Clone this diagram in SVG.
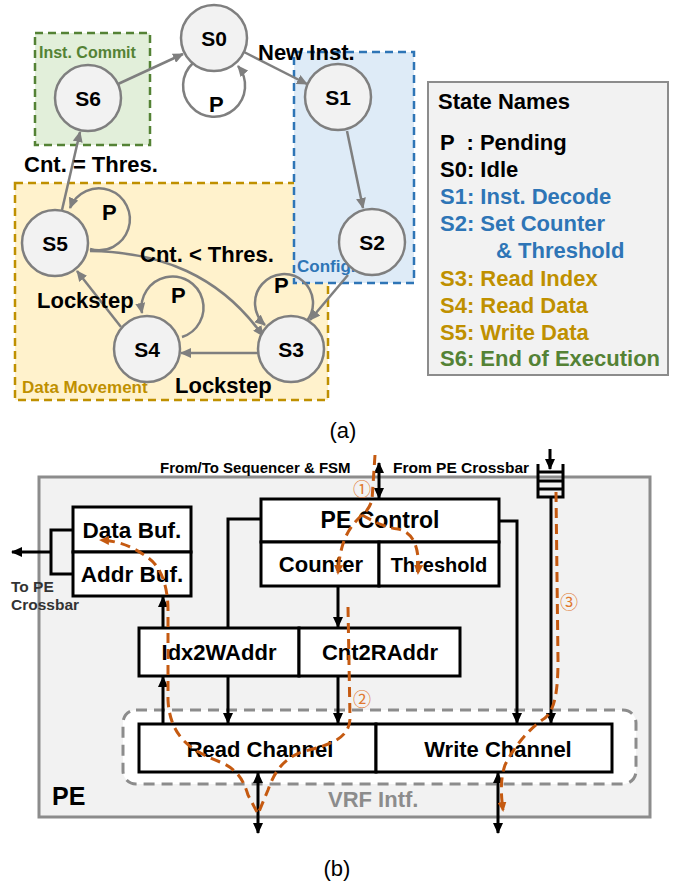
<svg xmlns="http://www.w3.org/2000/svg" width="688" height="886" viewBox="0 0 688 886">
<style>
text{font-family:"Liberation Sans",Arial,sans-serif;font-weight:bold}
.st{fill:#f2f2f2;stroke:#7f7f7f;stroke-width:2.5}
.sl{font-size:21px;text-anchor:middle;fill:#000}
.ga{fill:none;stroke:#7f7f7f;stroke-width:2.5;marker-end:url(#ga)}
.lb{font-size:22px;fill:#000}
.lg{font-size:22px}
.bx{fill:#fff;stroke:#000;stroke-width:3}
.bl{font-size:22px;text-anchor:middle;fill:#000}
.ka{fill:none;stroke:#000;stroke-width:3;marker-end:url(#ka)}
.kd{fill:none;stroke:#000;stroke-width:3;marker-end:url(#ka);marker-start:url(#ka)}
.kl{fill:none;stroke:#000;stroke-width:3}
.or{fill:none;stroke:#c55a11;stroke-width:3;stroke-dasharray:10 6}
.oa{marker-end:url(#oa)}
.num{font-family:"Noto Sans CJK JP","DejaVu Sans",sans-serif;font-weight:normal;font-size:18px;fill:#e0782f;text-anchor:middle}
.cap{font-family:"Liberation Sans",Arial,sans-serif;font-weight:normal;font-size:22px;fill:#000;text-anchor:middle}
</style>
<defs>
<marker id="ga" markerUnits="userSpaceOnUse" markerWidth="11" markerHeight="10" refX="10" refY="5" orient="auto"><path d="M0,0 L11,5 L0,10 z" fill="#7f7f7f"/></marker>
<marker id="ka" markerUnits="userSpaceOnUse" markerWidth="11" markerHeight="10" refX="10" refY="5" orient="auto-start-reverse"><path d="M0,0 L11,5 L0,10 z" fill="#000"/></marker>
<marker id="oa" markerUnits="userSpaceOnUse" markerWidth="10" markerHeight="9" refX="8" refY="4.5" orient="auto"><path d="M0,0 L10,4.5 L0,9 z" fill="#c55a11"/></marker>
</defs>

<!-- (a) state diagram -->
<g id="group-data">
<rect x="15" y="183" width="313" height="217" fill="#fff2cc" stroke="#bf9000" stroke-width="2.5" stroke-dasharray="8 5"/>
<text x="22" y="393" font-size="17" fill="#bf9000">Data Movement</text>
</g>
<g id="group-commit">
<rect x="35" y="33" width="115" height="112" fill="#e2efda" stroke="#548235" stroke-width="2.5" stroke-dasharray="8 5"/>
<text x="39" y="58" font-size="16" fill="#548235">Inst. Commit</text>
</g>
<g id="group-config">
<rect x="294" y="52" width="120" height="231" fill="#deebf7" stroke="#2e75b6" stroke-width="2.5" stroke-dasharray="8 5"/>
<text x="297" y="272" font-size="17" fill="#2e75b6">Config.</text>
</g>

<g id="state-edges">
<line class="ga" x1="118" y1="84" x2="183" y2="54"/>
<line class="ga" x1="244" y1="52" x2="307" y2="84"/>
<line class="ga" x1="347" y1="131" x2="363" y2="208"/>
<line class="ga" x1="348" y1="275" x2="310" y2="320"/>
<line class="ga" x1="258" y1="353" x2="181" y2="353"/>
<line class="ga" x1="121" y1="327" x2="77" y2="271"/>
<line class="ga" x1="62" y1="210" x2="80" y2="132"/>
<path class="ga" d="M90 251 C160 252 220 275 263 336"/>
<path class="ga" d="M193 63 A31 31 0 1 0 238 66"/>
<path class="ga" d="M90 249 A31 31 0 1 0 70 208"/>
<path class="ga" d="M182 337 A31 31 0 1 0 142 313"/>
<path class="ga" d="M306 322 A29 29 0 1 0 265 325"/>
<text class="lb" x="258" y="60">New Inst.</text>
<text class="lb" x="24" y="172">Cnt. = Thres.</text>
<text class="lb" x="140" y="262">Cnt. &lt; Thres.</text>
<text class="lb" x="37" y="308">Lockstep</text>
<text class="lb" x="175" y="393">Lockstep</text>
<text class="lb" x="209" y="112">P</text>
<text class="lb" x="102" y="220">P</text>
<text class="lb" x="171" y="303">P</text>
<text class="lb" x="274" y="293">P</text>
</g>

<g id="S0"><circle class="st" cx="214" cy="38" r="33"/><text class="sl" x="214" y="46">S0</text></g>
<g id="S1"><circle class="st" cx="338" cy="97" r="33"/><text class="sl" x="338" y="105">S1</text></g>
<g id="S2"><circle class="st" cx="372" cy="242" r="33"/><text class="sl" x="372" y="250">S2</text></g>
<g id="S3"><circle class="st" cx="291" cy="349" r="33"/><text class="sl" x="291" y="357">S3</text></g>
<g id="S4"><circle class="st" cx="147" cy="349" r="33"/><text class="sl" x="147" y="357">S4</text></g>
<g id="S5"><circle class="st" cx="55" cy="243" r="33"/><text class="sl" x="55" y="251">S5</text></g>
<g id="S6"><circle class="st" cx="88" cy="98" r="33"/><text class="sl" x="88" y="106">S6</text></g>

<g id="legend">
<rect x="428" y="82" width="240" height="293" fill="#f2f2f2" stroke="#8c8c8c" stroke-width="2"/>
<text class="lg" x="438" y="109" fill="#000">State Names</text>
<text class="lg" x="440" y="150" fill="#000" xml:space="preserve">P  : Pending</text>
<text class="lg" x="440" y="177" fill="#000">S0: Idle</text>
<text class="lg" x="440" y="204" fill="#2e75b6">S1: Inst. Decode</text>
<text class="lg" x="440" y="231" fill="#2e75b6">S2: Set Counter</text>
<text class="lg" x="496" y="258" fill="#2e75b6">&amp; Threshold</text>
<text class="lg" x="440" y="286" fill="#bf9000">S3: Read Index</text>
<text class="lg" x="440" y="313" fill="#bf9000">S4: Read Data</text>
<text class="lg" x="440" y="340" fill="#bf9000">S5: Write Data</text>
<text class="lg" x="440" y="366" fill="#548235">S6: End of Execution</text>
</g>

<text class="cap" x="343" y="438">(a)</text>

<!-- (b) PE block diagram -->
<g id="PE">
<rect x="39" y="477" width="611" height="340" fill="#f2f2f2" stroke="#8c8c8c" stroke-width="3"/>
<text x="52" y="805" font-size="25" fill="#000">PE</text>
</g>
<g id="VRF-intf">
<rect x="123" y="710" width="513" height="74" rx="13" fill="#fff" stroke="#8c8c8c" stroke-width="3" stroke-dasharray="11 7"/>
<text x="328" y="807" font-size="22" fill="#8c8c8c">VRF Intf.</text>
</g>
<text x="160" y="473" font-size="15" fill="#000">From/To Sequencer &amp; FSM</text>
<text x="393" y="473" font-size="15.5" fill="#000">From PE Crossbar</text>
<text x="11" y="592" font-size="15.5" fill="#333">To PE</text>
<text x="11" y="610" font-size="15.5" fill="#333">Crossbar</text>

<g id="PE-Control">
<rect class="bx" x="261" y="499" width="238" height="43"/>
<text x="380" y="528" font-size="23" text-anchor="middle" fill="#000">PE Control</text>
</g>
<g id="Counter">
<rect class="bx" x="261" y="542" width="118" height="44"/>
<text x="321" y="572" font-size="22" text-anchor="middle" fill="#000">Counter</text>
</g>
<g id="Threshold">
<rect class="bx" x="379" y="542" width="120" height="44"/>
<text x="439" y="572" font-size="20" text-anchor="middle" fill="#000">Threshold</text>
</g>
<g id="Data-Buf">
<rect class="bx" x="73" y="507" width="118" height="45"/>
<text x="132" y="538" font-size="22.5" text-anchor="middle" fill="#000">Data Buf.</text>
</g>
<g id="Addr-Buf">
<rect class="bx" x="73" y="552" width="118" height="44"/>
<text x="132" y="582" font-size="22.5" text-anchor="middle" fill="#000">Addr Buf.</text>
</g>
<g id="Idx2WAddr">
<rect class="bx" x="139" y="628" width="160" height="48"/>
<text class="bl" x="219" y="660">Idx2WAddr</text>
</g>
<g id="Cnt2RAddr">
<rect class="bx" x="299" y="628" width="161" height="48"/>
<text class="bl" x="380" y="660">Cnt2RAddr</text>
</g>
<g id="Read-Channel">
<rect class="bx" x="139" y="724" width="237" height="48"/>
<text class="bl" x="260" y="757">Read Channel</text>
</g>
<g id="Write-Channel">
<rect class="bx" x="376" y="724" width="236" height="48"/>
<text class="bl" x="498" y="757">Write Channel</text>
</g>
<g id="FIFO">
<path class="kl" d="M538 464 V497 H563 V464 M538 472 H563 M538 481 H563 M538 489 H563"/>
</g>

<g id="connectors">
<polyline class="kl" points="261,519 228,519 228,628"/>
<line class="ka" x1="228" y1="676" x2="228" y2="723"/>
<line class="ka" x1="338" y1="586" x2="338" y2="627"/>
<line class="ka" x1="338" y1="676" x2="338" y2="723"/>
<line class="ka" x1="163" y1="628" x2="163" y2="597"/>
<line class="ka" x1="163" y1="724" x2="163" y2="677"/>
<polyline class="ka" points="499,521 517,521 517,723"/>
<line class="ka" x1="551" y1="497" x2="551" y2="723"/>
<line class="ka" x1="550" y1="449" x2="550" y2="469"/>
<line class="kd" x1="379" y1="463" x2="379" y2="498"/>
<polyline class="kl" points="73,530 51,530 51,574 73,574"/>
<line class="ka" x1="51" y1="552" x2="12" y2="552"/>
<line class="kd" x1="258" y1="773" x2="258" y2="833"/>
<line class="kd" x1="498" y1="773" x2="498" y2="833"/>
</g>

<g id="flows">
<path class="or" d="M375 455 L372 500 Q369 510 362 515"/>
<path class="or oa" d="M362 515 C348 528 340 542 338 573"/>
<path class="or oa" d="M362 515 C378 524 388 528 398 529 C412 532 420 545 418 573"/>
<path class="or oa" d="M348 607 L350 718 C350 738 330 745 305 751 C285 757 275 770 268 790 L258 814 L248 795 C243 778 235 768 220 762 C195 752 170 740 168 700 L168 610 C168 585 160 565 147 557 C135 548 120 541 101 540"/>
<path class="or oa" d="M556 492 L558 660 C558 690 555 710 545 718 C530 728 515 745 505 765 C500 780 501 795 503 810"/>
<text class="num" x="362" y="496">①</text>
<text class="num" x="362" y="706">②</text>
<text class="num" x="569" y="609">③</text>
</g>

<text class="cap" x="337" y="876">(b)</text>
</svg>
